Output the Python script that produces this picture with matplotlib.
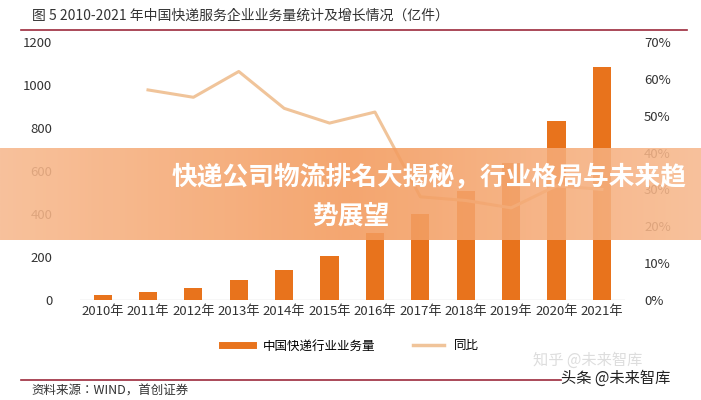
import numpy as np
import matplotlib.pyplot as plt
from matplotlib.lines import Line2D
from matplotlib.colors import LinearSegmentedColormap

plt.rcParams['font.family'] = ['Noto Sans CJK SC', 'Noto Sans CJK JP', 'DejaVu Sans']
plt.rcParams['axes.unicode_minus'] = False

years = ['2010年', '2011年', '2012年', '2013年', '2014年', '2015年',
         '2016年', '2017年', '2018年', '2019年', '2020年', '2021年']
volume = [23.4, 36.7, 56.9, 91.9, 139.6, 206.7, 312.8, 400.6, 507.1, 635.2, 833.6, 1083]
growth = [None, 57, 55, 62, 52, 48, 51, 28, 27, 25, 31, 30]

fig = plt.figure(figsize=(7.01, 4), dpi=100)
fig.patch.set_facecolor('white')

ax = fig.add_axes([0.114, 0.25, 0.777, 0.645])
x = np.arange(len(years))
ax.bar(x, volume, width=0.4, color='#e8731c', zorder=2)
ax.set_ylim(0, 1200)
ax.set_yticks(range(0, 1201, 200))
ax.set_xlim(-0.5, 11.5)
ax.set_xticks(x)
ax.set_xticklabels(years, fontsize=9, color='#333333')
ax.tick_params(axis='both', length=0, colors='#333333', labelsize=9.5)
ax.tick_params(axis='y', pad=20)
for s in ax.spines.values():
    s.set_visible(False)
ax.axhline(0, color='#d9d9d9', lw=1, zorder=1)

ax2 = ax.twinx()
gx = [i for i, g in enumerate(growth) if g is not None]
gy = [g for g in growth if g is not None]
ax2.plot(gx, gy, color='#f0c49a', lw=2.2, zorder=3)
ax2.set_ylim(0, 70)
ax2.set_yticks(range(0, 71, 10))
ax2.set_yticklabels([f'{v}%' for v in range(0, 71, 10)])
ax2.tick_params(axis='y', length=0, colors='#333333', labelsize=9.5, pad=14)
for s in ax2.spines.values():
    s.set_visible(False)

handles = [Line2D([], [], color='#e8731c', lw=5), Line2D([], [], color='#f0c49a', lw=2.5)]
fig.legend(handles, ['中国快递行业业务量', '同比'], loc='center', bbox_to_anchor=(0.5, 0.135),
           ncol=2, frameon=False, fontsize=9, handlelength=2.5, columnspacing=3)

fig.text(0.045, 0.96, '图 5 2010-2021 年中国快递服务企业业务量统计及增长情况（亿件）',
         fontsize=10, color='#333333', va='center')
fig.add_artist(Line2D([0.03, 0.98], [0.925, 0.925], color='#9c2a3c', lw=1.2))
fig.add_artist(Line2D([0.03, 0.8], [0.05, 0.05], color='#9c2a3c', lw=1.2))
fig.text(0.045, 0.025, '资料来源：WIND，首创证券', fontsize=9, color='#333333',
         style='italic', va='center')
fig.text(0.8, 0.055, '头条 @未来智库', fontsize=11, color='#222222', va='center')
fig.text(0.76, 0.1, '知乎 @未来智库', fontsize=11, color='#dddddd', va='center')

# overlay banner
grad = np.linspace(0, 1, 256).reshape(1, -1)
bax = fig.add_axes([0, 0.4, 1, 0.23])
bax.imshow(np.abs(grad - 0.5), cmap=LinearSegmentedColormap.from_list(
    'b', ['#f39a5c', '#f7b98e']), aspect='auto', alpha=0.88)
bax.axis('off')
fig.text(0.245, 0.555, '快递公司物流排名大揭秘，行业格局与未来趋', fontsize=18.5, color='white',
         fontweight='bold', ha='left', va='center')
fig.text(0.5, 0.46, '势展望', fontsize=18.5, color='white',
         fontweight='bold', ha='center', va='center')

fig.savefig('out.png', dpi=100)
